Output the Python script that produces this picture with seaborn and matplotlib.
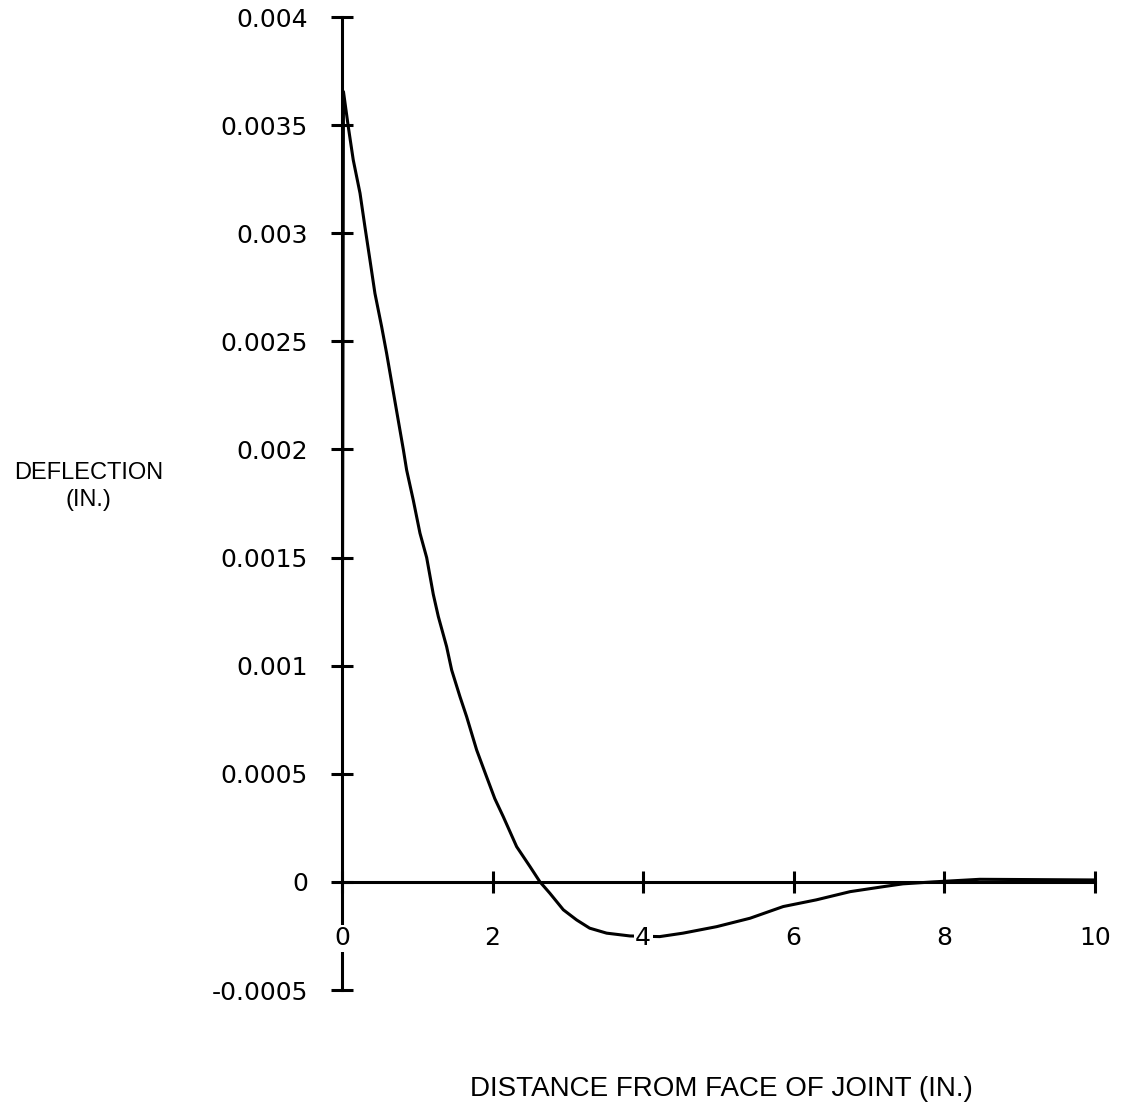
import numpy as np
import pandas as pd
import matplotlib
matplotlib.use("Agg")
import matplotlib.pyplot as plt
import seaborn as sns

# distance from face of joint (in.) and deflection (x 1e-3 in.)
distance = [0.0, 0.02, 0.084, 0.15, 0.24, 0.305, 0.372, 0.438, 0.527, 0.593,
            0.70, 0.815, 0.859, 0.947, 1.036, 1.125, 1.213, 1.28, 1.39, 1.457,
            1.567, 1.656, 1.789, 1.92, 2.03, 2.142, 2.32, 2.497, 2.63, 2.76,
            2.94, 3.117, 3.29, 3.515, 3.825, 4.22, 4.53, 4.976, 5.42, 5.86,
            6.30, 6.75, 7.19, 7.45, 7.85, 8.47, 9.0, 9.5, 10.0]
deflection = [0.0, 3.655, 3.493, 3.339, 3.185, 3.03, 2.876, 2.722, 2.568, 2.445,
              2.23, 2.0, 1.905, 1.766, 1.613, 1.50, 1.33, 1.227, 1.088, 0.98,
              0.857, 0.764, 0.61, 0.487, 0.385, 0.302, 0.163, 0.071, 0.0, -0.052,
              -0.129, -0.176, -0.214, -0.237, -0.250, -0.253, -0.237, -0.207,
              -0.168, -0.114, -0.083, -0.045, -0.022, -0.009, 0.0, 0.012, 0.011,
              0.010, 0.009]
deflection = [v * 1e-3 for v in deflection]

x_ticks = [0, 2, 4, 6, 8, 10]
x_tick_labels = ["0", "2", "4", "6", "8", "10"]
y_ticks = [-0.0005, 0, 0.0005, 0.001, 0.0015, 0.002, 0.0025, 0.003, 0.0035, 0.004]
y_tick_labels = ["-0.0005", "0", "0.0005", "0.001", "0.0015", "0.002",
                 "0.0025", "0.003", "0.0035", "0.004"]

df = pd.DataFrame({"distance": distance, "deflection": deflection})

sns.set_style("ticks")
plt.rcParams["font.family"] = ["DejaVu Sans"]
plt.rcParams["text.color"] = "black"

fig = plt.figure(figsize=(11.23, 11.13), dpi=100)
ax = fig.add_axes([0.3045, 0.1105, 0.6705, 0.8742])

sns.lineplot(data=df, x="distance", y="deflection", ax=ax, color="black",
             linewidth=2.2, sort=False, estimator=None)

ax.set_xlim(0, 10)
ax.set_ylim(-0.0005, 0.004)

ax.spines["top"].set_visible(False)
ax.spines["right"].set_visible(False)
ax.spines["bottom"].set_position(("data", 0))
ax.spines["left"].set_position(("data", 0))
for s in ("left", "bottom"):
    ax.spines[s].set_linewidth(2.2)
    ax.spines[s].set_color("black")

ax.set_xticks(x_ticks)
ax.set_xticklabels(x_tick_labels)
ax.set_yticks(y_ticks)
ax.set_yticklabels(y_tick_labels)

ax.tick_params(axis="both", direction="inout", length=16, width=2.2,
               colors="black", labelsize=18)
ax.tick_params(axis="x", pad=24)
ax.tick_params(axis="y", pad=16.5)
# x tick labels sit over the curve / y axis with a white backing, as in the original
ax.xaxis.set_zorder(5)
for lab in ax.get_xticklabels():
    lab.set_bbox(dict(facecolor="white", edgecolor="none", pad=1))

ax.set_xlabel("")
ax.set_ylabel("")
fig.text(0.079, 0.563, "DEFLECTION\n(IN.)", ha="center", va="center",
         fontsize=17, color="black", family=["Liberation Sans"], linespacing=1.25)
fig.text(0.642, 0.022, "DISTANCE FROM FACE OF JOINT (IN.)", ha="center",
         va="center", fontsize=20, color="black", family=["Liberation Sans"])

fig.savefig("out.png", dpi=100, facecolor="white")
